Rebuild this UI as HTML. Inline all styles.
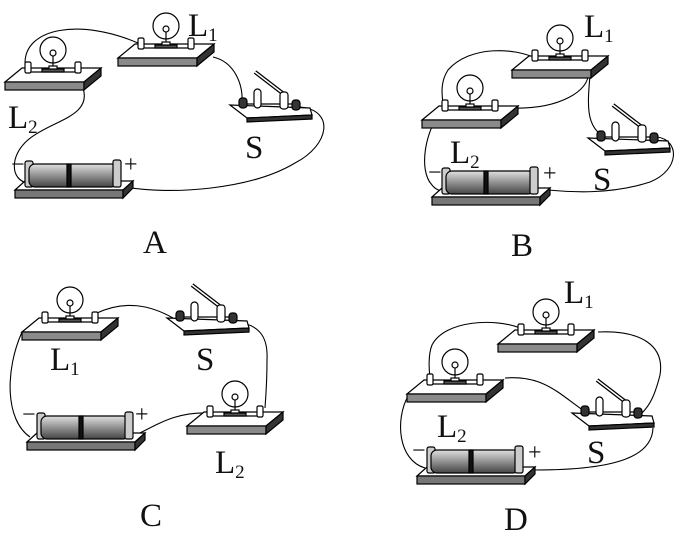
<!DOCTYPE html>
<html><head><meta charset="utf-8"><style>
html,body{margin:0;padding:0;background:#fff;}
svg{display:block;}
text{font-family:"Liberation Serif",serif;fill:#111;}
</style></head><body>
<svg width="685" height="535" viewBox="0 0 685 535" xmlns="http://www.w3.org/2000/svg">
<defs>
<linearGradient id="bg" x1="0" y1="0" x2="0" y2="1">
<stop offset="0" stop-color="#e0e0e0"/><stop offset="0.45" stop-color="#999"/><stop offset="1" stop-color="#444"/>
</linearGradient>
<g id="bb" stroke="#000" stroke-width="1.2">
<polygon points="0,0 17,-14 96,-14 79,0" fill="#fff"/>
<rect x="0" y="0" width="79" height="8" fill="#8a8a8a"/>
<polygon points="79,0 96,-14 96,-6 79,8" fill="#333"/>
<line x1="23" y1="-10" x2="73" y2="-10"/>
<rect x="20" y="-20" width="6" height="11" rx="1.5" fill="#fff"/>
<rect x="70" y="-20" width="6" height="11" rx="1.5" fill="#fff"/>
<rect x="37" y="-13" width="22" height="3" fill="#555"/>
<rect x="44" y="-16" width="8" height="3" fill="#fff"/>
<line x1="48" y1="-16" x2="48" y2="-27"/>
<circle cx="48" cy="-32" r="13" fill="none"/>
<circle cx="48" cy="-29" r="3" fill="#fff"/>
</g>
<g id="sw" stroke="#000" stroke-width="1.2">
<polygon points="0,0 80,3 82,10 17,13" fill="#fff"/>
<polygon points="17,13 82,10 82,14 17,17" fill="#333"/>
<line x1="13" y1="-1" x2="66" y2="-1"/>
<rect x="9" y="-7" width="8" height="10" rx="3" fill="#333"/>
<rect x="24" y="-16" width="7" height="19" rx="3.5" fill="#fff"/>
<line x1="55" y1="-10" x2="25" y2="-33" stroke-width="4"/>
<line x1="55" y1="-10" x2="25" y2="-33" stroke="#fff" stroke-width="1.5"/>
<rect x="50" y="-13" width="8" height="17" rx="3" fill="#fff"/>
<rect x="62" y="-5" width="8" height="10" rx="3" fill="#333"/>
</g>
<g id="bat" stroke="#000" stroke-width="1.2">
<polygon points="0,0 10,-9 118,-9 108,0" fill="#fff"/>
<rect x="0" y="0" width="108" height="8" fill="#777"/>
<polygon points="108,0 118,-9 118,-2 108,8" fill="#333"/>
<rect x="10" y="-29" width="8" height="26" rx="2" fill="#ccc"/>
<rect x="14" y="-26" width="88" height="23" rx="6" fill="url(#bg)"/>
<rect x="52" y="-26" width="4" height="23" fill="#111"/>
<rect x="98" y="-30" width="8" height="27" rx="2" fill="#ccc"/>
</g>
</defs>

<g fill="none" stroke="#000" stroke-width="1.1">
<path d="M25,63 C25,28 80,18 138,43"/>
<path d="M83,88 C95,125 25,120 15,160 C12,175 20,183 30,183"/>
<path d="M213,57 C235,62 243,85 242,102"/>
<path d="M300,107 C335,110 330,145 295,163 C250,190 170,195 125,187"/>
<path d="M535,58 C515,48 470,45 448,70 C440,82 442,95 443,104"/>
<path d="M443,108 C425,130 418,170 432,185 C436,190 440,191 445,191"/>
<path d="M510,108 C560,110 590,90 588,73"/>
<path d="M590,75 C588,100 585,125 602,135"/>
<path d="M657,137 C680,140 680,170 650,182 C610,195 570,192 548,190"/>
<path d="M42,318 L22,332 C5,370 5,420 30,437"/>
<path d="M97,313 C125,300 150,305 173,318"/>
<path d="M237,322 C262,325 268,340 267,360 C267,380 266,395 265,408"/>
<path d="M210,413 C180,412 165,420 140,433"/>
<path d="M520,328 C495,318 445,320 432,345 C428,355 429,370 430,377"/>
<path d="M430,380 L408,396 C395,420 398,460 425,468"/>
<path d="M505,378 C545,375 560,395 587,413"/>
<path d="M598,332 C640,330 665,345 660,375 C655,395 650,405 642,413"/>
<path d="M653,428 C652,455 620,470 535,470"/>
</g>

<use href="#bb" x="5" y="82"/>
<use href="#bb" x="118" y="58"/>
<use href="#sw" x="230" y="105"/>
<use href="#bat" x="15" y="190"/>
<use href="#bb" x="512" y="70"/>
<use href="#bb" x="422" y="120"/>
<use href="#sw" x="588" y="138"/>
<use href="#bat" x="432" y="197"/>
<use href="#bb" x="22" y="332"/>
<use href="#sw" x="167" y="318"/>
<use href="#bb" x="187" y="426"/>
<use href="#bat" x="27" y="442"/>
<use href="#bb" x="498" y="344"/>
<use href="#bb" x="407" y="394"/>
<use href="#sw" x="572" y="413"/>
<use href="#bat" x="417" y="476"/>

<g font-size="33">
<text x="188" y="36">L<tspan font-size="19" dy="5">1</tspan></text>
<text x="8" y="128">L<tspan font-size="19" dy="5">2</tspan></text>
<text x="245" y="158">S</text>
<text x="143" y="253">A</text>
<text x="584" y="37">L<tspan font-size="19" dy="5">1</tspan></text>
<text x="450" y="163">L<tspan font-size="19" dy="5">2</tspan></text>
<text x="593" y="190">S</text>
<text x="511" y="256">B</text>
<text x="50" y="370">L<tspan font-size="19" dy="5">1</tspan></text>
<text x="196" y="370">S</text>
<text x="215" y="473">L<tspan font-size="19" dy="5">2</tspan></text>
<text x="140" y="526">C</text>
<text x="564" y="303">L<tspan font-size="19" dy="5">1</tspan></text>
<text x="437" y="437">L<tspan font-size="19" dy="5">2</tspan></text>
<text x="587" y="463">S</text>
<text x="504" y="530">D</text>
</g>
<g font-size="24">
<text x="11" y="172">−</text><text x="124" y="172">+</text>
<text x="428" y="180">−</text><text x="543" y="181">+</text>
<text x="22" y="422">−</text><text x="135" y="422">+</text>
<text x="412" y="458">−</text><text x="528" y="460">+</text>
</g>
</svg>
</body></html>
